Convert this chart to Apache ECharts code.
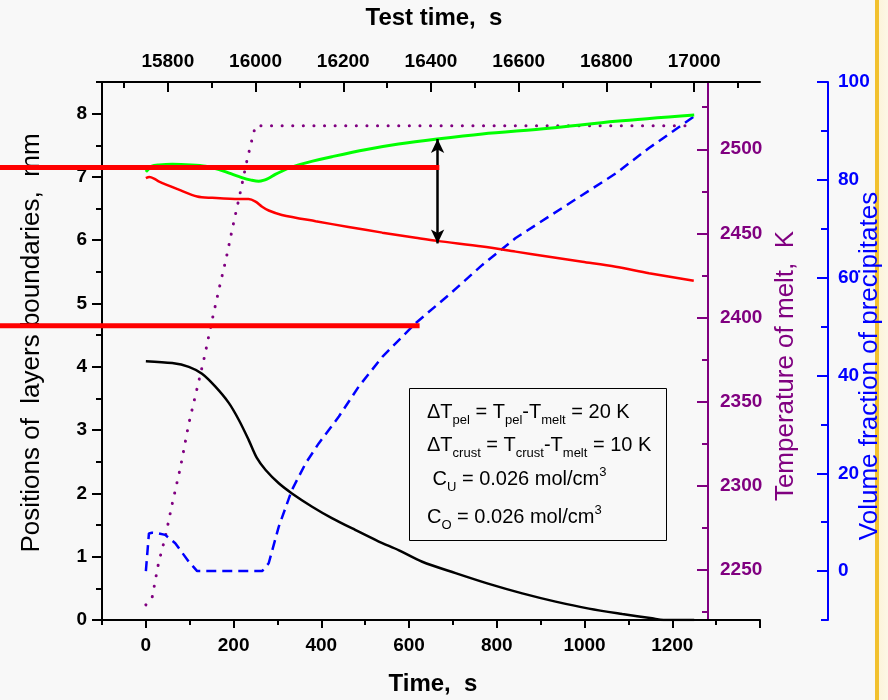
<!DOCTYPE html>
<html>
<head>
<meta charset="utf-8">
<script src="https://cdn.jsdelivr.net/npm/echarts@6/dist/echarts.min.js"></script>
<style>
  html, body { margin: 0; padding: 0; }
  #chart {
    width: 888px; height: 700px;
    background: linear-gradient(to right, #f8f8f8 0, #f8f8f8 875px, #f2c12e 875px, #f2c12e 879px, #fcf4da 879px, #fdf7e6 888px);
  }
</style>
</head>
<body>
<div id="chart"></div>
<script>
// Upper boundary of the layer (green)
const upperTime = [0, 14, 30, 60, 104, 136, 165, 190, 219, 240, 257, 270, 280, 295, 310, 330, 348, 380, 424, 500, 576, 664, 767, 919, 1071, 1250];
const upperPos  = [7.08, 7.17, 7.19, 7.20, 7.19, 7.17, 7.12, 7.06, 6.99, 6.95, 6.93, 6.95, 6.98, 7.04, 7.09, 7.15, 7.19, 7.25, 7.32, 7.43, 7.52, 7.60, 7.68, 7.77, 7.88, 7.98];

// Lower boundary of the layer (red)
const lowerTime = [0, 8, 20, 29, 75, 117, 151, 212, 234, 250, 265, 280, 310, 387, 462, 539, 615, 664, 767, 843, 919, 995, 1071, 1147, 1249];
const lowerPos  = [6.98, 7.00, 6.97, 6.93, 6.80, 6.69, 6.67, 6.65, 6.65, 6.61, 6.53, 6.47, 6.40, 6.30, 6.21, 6.12, 6.04, 5.99, 5.90, 5.82, 5.74, 5.66, 5.58, 5.48, 5.36];

// Pellet boundary (black)
const pelletTime = [0, 60, 98, 128, 158, 189, 212, 234, 253, 273, 303, 333, 379, 424, 478, 531, 577, 630, 706, 782, 858, 934, 1010, 1086, 1154, 1180, 1250];
const pelletPos  = [4.09, 4.06, 4.00, 3.89, 3.69, 3.43, 3.16, 2.85, 2.56, 2.37, 2.16, 2.00, 1.79, 1.61, 1.42, 1.24, 1.10, 0.92, 0.74, 0.57, 0.42, 0.29, 0.18, 0.095, 0.026, 0, 0];

// Melt temperature, K (purple dotted)
const meltTime = [0, 14, 29, 44, 60, 79, 98, 117, 134, 149, 166, 183, 199, 215, 231, 244, 250, 1250];
const meltTemp = [2229, 2233, 2254, 2269, 2289, 2311, 2337, 2358, 2377, 2396, 2416, 2435, 2455, 2474, 2494, 2508, 2514, 2514];

// Volume fraction of precipitates, % (blue dashed)
const fracTime = [0, 7, 14, 25, 44, 67, 98, 117, 265, 280, 303, 333, 364, 394, 440, 485, 539, 615, 691, 767, 843, 919, 995, 1071, 1147, 1249];
const fracVal  = [0, 7.7, 7.85, 7.8, 7.4, 5.7, 1.9, 0, 0, 1.6, 9.1, 16.6, 22.0, 26.1, 31.6, 37.7, 43.8, 50.7, 56.5, 62.6, 68.1, 72.5, 76.9, 81.3, 86.5, 92.9];

// Measured boundary levels (thick red bars), mm, and where each bar ends in time
const measuredLevel = [7.15, 4.65];
const measuredEnd   = [669, 624];

// Layer thickness marker (double arrow)
const gapTime = 665;
const gapTop = 7.6;
const gapBottom = 5.95;

// Tick values
const timeLabels      = [0, 200, 400, 600, 800, 1000, 1200];
const timeMajor       = [0, 200, 400, 600, 800, 1000, 1200, 1400];
const timeMinor       = [-100, 100, 300, 500, 700, 900, 1100, 1300];
const testTimeLabels  = [15800, 16000, 16200, 16400, 16600, 16800, 17000];
const testTimeMinor   = [15700, 15900, 16100, 16300, 16500, 16700, 16900, 17100];
const posLabels       = [0, 1, 2, 3, 4, 5, 6, 7, 8];
const posMinor        = [0.5, 1.5, 2.5, 3.5, 4.5, 5.5, 6.5, 7.5, 8.5];
const tempLabels      = [2250, 2300, 2350, 2400, 2450, 2500];
const tempMinor       = [2225, 2275, 2325, 2375, 2425, 2475, 2525];
const fracLabels      = [0, 20, 40, 60, 80, 100];
const fracMinor       = [-10, 10, 30, 50, 70, 90];

const FONT = "'Liberation Sans', Arial, Helvetica, sans-serif";
const PURPLE = '#800080';
const BLUE = '#0000ff';

const zip = (xs, ys) => xs.map((x, i) => [x, ys[i]]);
const plain = v => String(v);

function axis(base, o) {
  const color = o.color || '#000';
  return Object.assign({
    type: 'value',
    min: o.min, max: o.max,
    splitLine: { show: false },
    axisLine: { show: o.line !== false, onZero: false, lineStyle: { color, width: 2 } },
    axisTick: {
      show: true, inside: !!o.inside, length: o.tickLen,
      customValues: o.ticks, lineStyle: { color, width: 2 }
    },
    axisLabel: o.labels ? {
      show: true, customValues: o.labels, formatter: plain, margin: o.margin,
      color, fontFamily: FONT, fontWeight: 'bold', fontSize: 19
    } : { show: false }
  }, base);
}

const chart = echarts.init(document.getElementById('chart'), null, { renderer: 'canvas' });

const richStyles = {
  m: { fontFamily: FONT, fontSize: 20, lineHeight: 24, fill: '#000' },
  s: { fontFamily: FONT, fontSize: 13, lineHeight: 16, padding: [17, 0, 0, 0], fill: '#000' },
  p: { fontFamily: FONT, fontSize: 13, lineHeight: 16, padding: [0, 0, 13, 0], fill: '#000' }
};

const noteLines = [
  { y: 412, text: '{m|ΔT}{s|pel}{m| = T}{s|pel}{m|-T}{s|melt}{m| = 20 K}' },
  { y: 445, text: '{m|ΔT}{s|crust}{m| = T}{s|crust}{m|-T}{s|melt}{m| = 10 K}' },
  { y: 479, text: '{m| C}{s|U}{m| = 0.026 mol/cm}{p|3}' },
  { y: 517, text: '{m|C}{s|O}{m| = 0.026 mol/cm}{p|3}' }
];

const graphicElements = [
  {
    id: 'noteBox', type: 'rect', z: 10,
    shape: { x: 409.5, y: 388.5, width: 257, height: 152 },
    style: { fill: '#f8f8f8', stroke: '#000', lineWidth: 1 }
  },
  ...noteLines.map((line, i) => ({
    id: 'note' + i, type: 'text', z: 11, x: 427, y: line.y,
    style: { text: line.text, align: 'left', verticalAlign: 'middle', rich: richStyles }
  }))
];

const nameStyle = (color, pad, bold) => ({
  fontFamily: FONT, fontSize: bold ? 24 : 26, fontWeight: bold ? 'bold' : 'normal', color, padding: pad
});

const smoothLine = (name, t, v, color, width) => ({
  name, type: 'line', xAxisIndex: 0, yAxisIndex: 0,
  data: zip(t, v), showSymbol: false, symbol: 'none', smooth: 0.3,
  lineStyle: { color, width }
});

const option = {
  animation: false,
  backgroundColor: 'transparent',
  grid: { left: 102, right: 128, top: 82, bottom: 80, outerBoundsMode: 'none', containLabel: false },
  xAxis: [
    Object.assign(axis({ position: 'bottom' }, { min: -100, max: 1400, ticks: timeMajor, tickLen: 8, labels: timeLabels, margin: 16 }), {
      name: 'Time,  s', nameLocation: 'middle', nameGap: 52, nameTextStyle: nameStyle('#000', [0, 0, 0, 4], true)
    }),
    axis({ position: 'bottom' }, { min: -100, max: 1400, ticks: timeMinor, tickLen: 5, line: false }),
    Object.assign(axis({ position: 'top' }, { min: 15650, max: 17150, ticks: testTimeLabels, tickLen: 10, inside: true, labels: testTimeLabels, margin: 11 }), {
      name: 'Test time,  s', nameLocation: 'middle', nameGap: 52, nameTextStyle: nameStyle('#000', [0, 0, 0, 6], true)
    }),
    axis({ position: 'top' }, { min: 15650, max: 17150, ticks: testTimeMinor, tickLen: 6, inside: true, line: false })
  ],
  yAxis: [
    Object.assign(axis({ position: 'left' }, { min: 0, max: 8.5, ticks: posLabels, tickLen: 10, labels: posLabels, margin: 15 }), {
      name: 'Positions of  layers boundaries,  mm', nameLocation: 'middle', nameGap: 57, nameTextStyle: nameStyle('#000', [0, 0, 0, 16])
    }),
    axis({ position: 'left' }, { min: 0, max: 8.5, ticks: posMinor, tickLen: 6, line: false }),
    Object.assign(axis({ position: 'right', offset: -52 }, { min: 2220, max: 2540, ticks: tempLabels, tickLen: 11, inside: true, labels: tempLabels, margin: 12, color: PURPLE }), {
      name: 'Temperature of melt,  K', nameLocation: 'middle', nameGap: 61, nameTextStyle: nameStyle(PURPLE, [0, 30, 0, 0])
    }),
    axis({ position: 'right', offset: -52 }, { min: 2220, max: 2540, ticks: tempMinor, tickLen: 6, inside: true, line: false, color: PURPLE }),
    Object.assign(axis({ position: 'right', offset: 68 }, { min: -10, max: 100, ticks: fracLabels, tickLen: 11, inside: true, labels: fracLabels, margin: 10, color: BLUE }), {
      name: 'Volume fraction of precipitates', nameLocation: 'middle', nameGap: 29, nameMoveOverlap: false,
      nameTextStyle: nameStyle(BLUE, [0, 30, 0, 0])
    }),
    axis({ position: 'right', offset: 68 }, { min: -10, max: 100, ticks: fracMinor, tickLen: 7, inside: true, line: false, color: BLUE })
  ],
  series: [
    {
      name: 'melt temperature', type: 'line', xAxisIndex: 0, yAxisIndex: 2,
      data: zip(meltTime, meltTemp), showSymbol: false, symbol: 'none',
      lineStyle: { color: PURPLE, width: 3, type: [0.1, 10.5], cap: 'round' }
    },
    {
      name: 'precipitates', type: 'line', xAxisIndex: 0, yAxisIndex: 4,
      data: zip(fracTime, fracVal), showSymbol: false, symbol: 'none',
      lineStyle: { color: BLUE, width: 2.5, type: [10, 6] }
    },
    smoothLine('upper boundary', upperTime, upperPos, '#00ff00', 3),
    smoothLine('lower boundary', lowerTime, lowerPos, '#ff0000', 2.5),
    smoothLine('pellet boundary', pelletTime, pelletPos, '#000000', 2.5),
    {
      name: 'layer thickness', type: 'line', xAxisIndex: 0, yAxisIndex: 0, data: [],
      markLine: {
        silent: true, symbol: ['arrow', 'arrow'], symbolSize: [10, 14],
        label: { show: false },
        lineStyle: { color: '#000', width: 2.5, type: 'solid' },
        data: [[{ coord: [gapTime, gapTop] }, { coord: [gapTime, gapBottom] }]]
      }
    }
  ],
  graphic: { elements: graphicElements }
};

chart.setOption(option);

// The measured-level bars run from the left edge of the page to their end time;
// positions come from the time/position axes of the chart.
const toPx = (x, y) => chart.convertToPixel({ xAxisIndex: 0, yAxisIndex: 0 }, [x, y]);
measuredLevel.forEach((lvl, i) => {
  const end = toPx(measuredEnd[i], lvl);
  graphicElements.push({
    id: 'measured' + i, type: 'line', z: 20,
    shape: { x1: 0, y1: end[1], x2: end[0], y2: end[1] },
    style: { stroke: '#ff0000', lineWidth: 5, lineCap: 'butt' }
  });
});
chart.setOption({ graphic: { elements: graphicElements } });
</script>
</body>
</html>
